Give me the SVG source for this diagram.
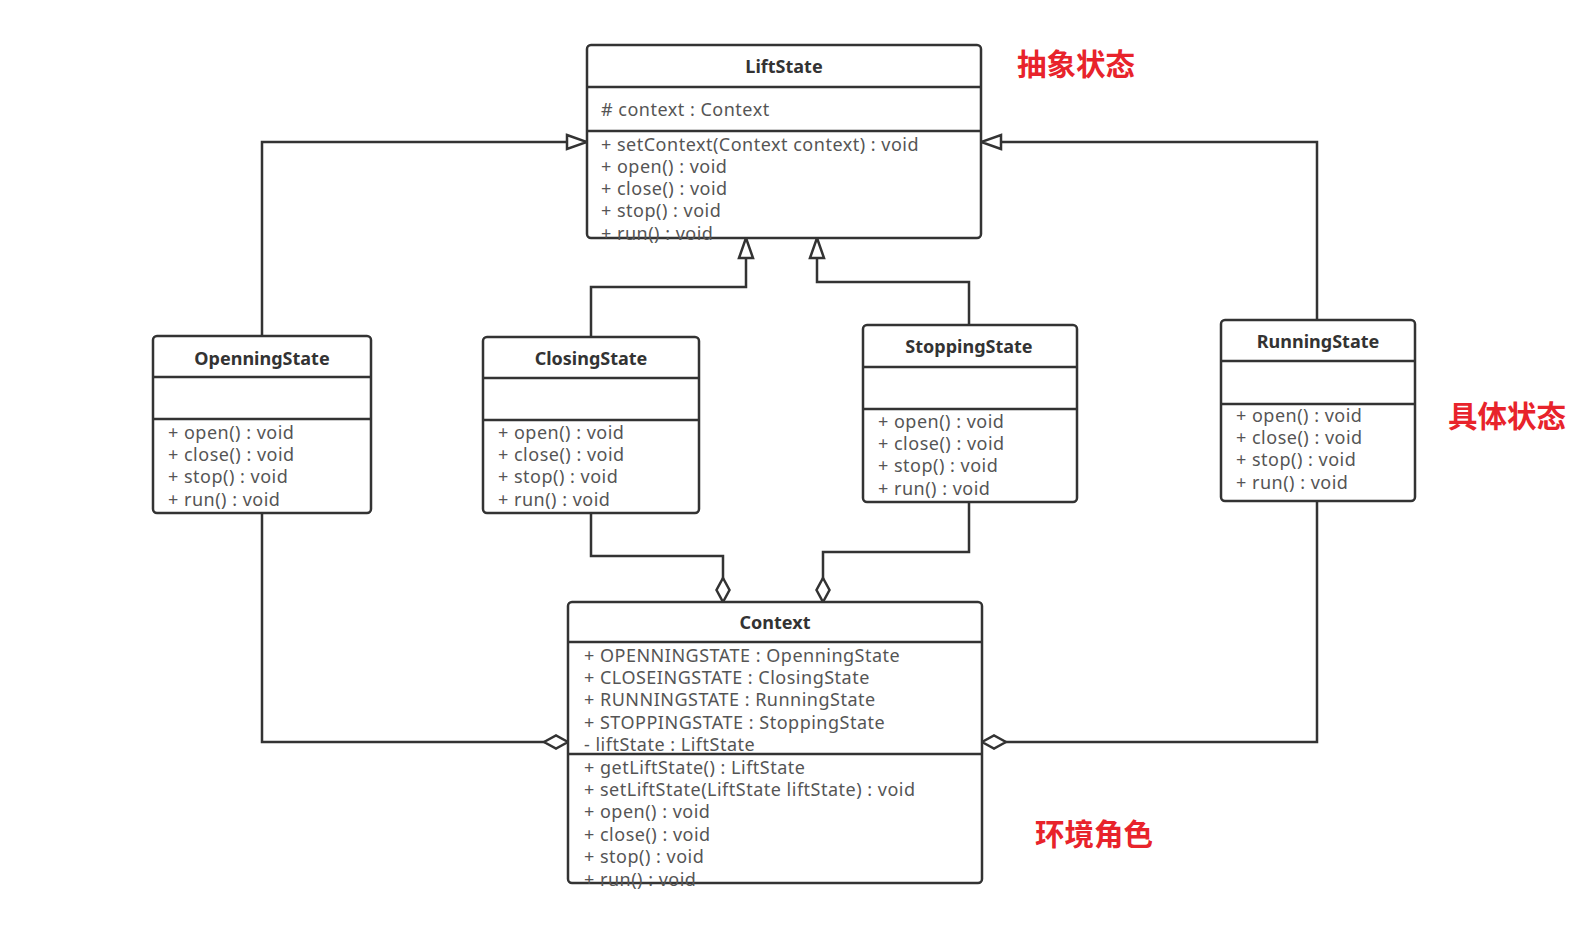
<svg xmlns="http://www.w3.org/2000/svg" width="1594" height="928" viewBox="0 0 1594 928">
<style>
.box{fill:#fff;stroke:#333;stroke-width:2.5}
.div{stroke:#333;stroke-width:2.5}
.title{font-family:"Noto Sans","Open Sans",sans-serif;font-size:18px;font-weight:bold;fill:#333;text-anchor:middle}
.mem{font-family:"Noto Sans","Open Sans",sans-serif;font-size:18px;letter-spacing:0.5px;fill:#555}
.con{fill:none;stroke:#333;stroke-width:2.5}
.lbl{font-family:"Noto Sans CJK SC",sans-serif;font-size:29.5px;font-weight:bold;fill:#e8232b}
</style>
<defs>
<marker id="gen" markerUnits="userSpaceOnUse" viewBox="-2 -2 24 18" refX="20" refY="7" markerWidth="24" markerHeight="18" orient="auto">
<path d="M0,0 L20,7 L0,14 z" fill="#fff" stroke="#333" stroke-width="2.5"/>
</marker>
<marker id="agg" markerUnits="userSpaceOnUse" viewBox="-2 -2 28 17" refX="24" refY="6.5" markerWidth="28" markerHeight="17" orient="auto">
<path d="M0,6.5 L12,0 L24,6.5 L12,13 z" fill="#fff" stroke="#333" stroke-width="2.5"/>
</marker>
</defs>
<rect width="1594" height="928" fill="#fff"/>
<g id="connectors">
<path class="con" d="M262,336 V142 H587" marker-end="url(#gen)"/>
<path class="con" d="M1317,320 V142 H981" marker-end="url(#gen)"/>
<path class="con" d="M591,337 V287 H746 V238" marker-end="url(#gen)"/>
<path class="con" d="M969,325 V282 H817 V238" marker-end="url(#gen)"/>
<path class="con" d="M591,513 V556 H723 V602" marker-end="url(#agg)"/>
<path class="con" d="M969,502 V552 H823 V602" marker-end="url(#agg)"/>
<path class="con" d="M262,513 V742 H568" marker-end="url(#agg)"/>
<path class="con" d="M1317,501 V742 H982" marker-end="url(#agg)"/>
</g>
<g id="LiftState">
<rect class="box" x="587" y="45" width="394" height="193" rx="4"/>
<line class="div" x1="587" y1="87" x2="981" y2="87"/>
<line class="div" x1="587" y1="131" x2="981" y2="131"/>
<text class="title" x="784" y="73">LiftState</text>
<text class="mem" x="601" y="116"># context : Context</text>
<text class="mem" x="601" y="151">+ setContext(Context context) : void</text>
<text class="mem" x="601" y="173">+ open() : void</text>
<text class="mem" x="601" y="195">+ close() : void</text>
<text class="mem" x="601" y="217">+ stop() : void</text>
<text class="mem" x="601" y="240">+ run() : void</text>
</g>
<g id="OpenningState">
<rect class="box" x="153" y="336" width="218" height="177" rx="4"/>
<line class="div" x1="153" y1="377" x2="371" y2="377"/>
<line class="div" x1="153" y1="419" x2="371" y2="419"/>
<text class="title" x="262" y="365">OpenningState</text>
<text class="mem" x="168" y="439">+ open() : void</text>
<text class="mem" x="168" y="461">+ close() : void</text>
<text class="mem" x="168" y="483">+ stop() : void</text>
<text class="mem" x="168" y="506">+ run() : void</text>
</g>
<g id="ClosingState">
<rect class="box" x="483" y="337" width="216" height="176" rx="4"/>
<line class="div" x1="483" y1="378" x2="699" y2="378"/>
<line class="div" x1="483" y1="420" x2="699" y2="420"/>
<text class="title" x="591" y="365">ClosingState</text>
<text class="mem" x="498" y="439">+ open() : void</text>
<text class="mem" x="498" y="461">+ close() : void</text>
<text class="mem" x="498" y="483">+ stop() : void</text>
<text class="mem" x="498" y="506">+ run() : void</text>
</g>
<g id="StoppingState">
<rect class="box" x="863" y="325" width="214" height="177" rx="4"/>
<line class="div" x1="863" y1="367" x2="1077" y2="367"/>
<line class="div" x1="863" y1="409" x2="1077" y2="409"/>
<text class="title" x="969" y="353">StoppingState</text>
<text class="mem" x="878" y="428">+ open() : void</text>
<text class="mem" x="878" y="450">+ close() : void</text>
<text class="mem" x="878" y="472">+ stop() : void</text>
<text class="mem" x="878" y="495">+ run() : void</text>
</g>
<g id="RunningState">
<rect class="box" x="1221" y="320" width="194" height="181" rx="4"/>
<line class="div" x1="1221" y1="361" x2="1415" y2="361"/>
<line class="div" x1="1221" y1="404" x2="1415" y2="404"/>
<text class="title" x="1318" y="348">RunningState</text>
<text class="mem" x="1236" y="422">+ open() : void</text>
<text class="mem" x="1236" y="444">+ close() : void</text>
<text class="mem" x="1236" y="466">+ stop() : void</text>
<text class="mem" x="1236" y="489">+ run() : void</text>
</g>
<g id="Context">
<rect class="box" x="568" y="602" width="414" height="281" rx="4"/>
<line class="div" x1="568" y1="642" x2="982" y2="642"/>
<line class="div" x1="568" y1="754" x2="982" y2="754"/>
<text class="title" x="775" y="629">Context</text>
<text class="mem" x="584" y="662">+ OPENNINGSTATE : OpenningState</text>
<text class="mem" x="584" y="684">+ CLOSEINGSTATE : ClosingState</text>
<text class="mem" x="584" y="706">+ RUNNINGSTATE : RunningState</text>
<text class="mem" x="584" y="729">+ STOPPINGSTATE : StoppingState</text>
<text class="mem" x="584" y="751">- liftState : LiftState</text>
<text class="mem" x="584" y="774">+ getLiftState() : LiftState</text>
<text class="mem" x="584" y="796">+ setLiftState(LiftState liftState) : void</text>
<text class="mem" x="584" y="818">+ open() : void</text>
<text class="mem" x="584" y="841">+ close() : void</text>
<text class="mem" x="584" y="863">+ stop() : void</text>
<text class="mem" x="584" y="886">+ run() : void</text>
</g>
<g id="labels">
<text class="lbl" x="1017" y="75">抽象状态</text>
<text class="lbl" x="1448" y="427">具体状态</text>
<text class="lbl" x="1035" y="845">环境角色</text>
</g>
</svg>
